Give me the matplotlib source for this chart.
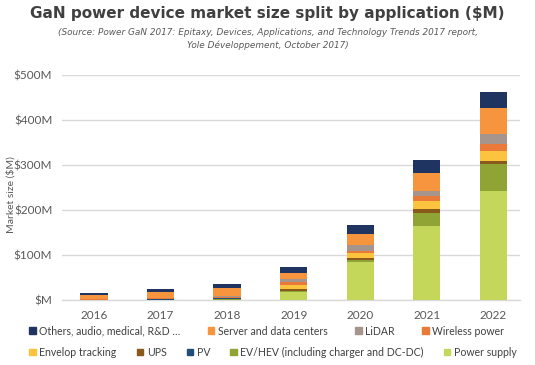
import matplotlib.pyplot as plt
from matplotlib.patches import Patch
import numpy as np

years = ["2016", "2017", "2018", "2019", "2020", "2021", "2022"]

# series values in $M, stacked bottom to top
power_supply = [0, 0.5, 1, 18, 85, 164, 242]
ev_hev = [0, 0, 0.5, 2, 3, 29, 60]
pv = [0.5, 1, 2, 1, 1, 1, 1]
ups = [0.5, 0, 1, 4, 4, 7, 6]
envelop = [0, 1, 1, 9, 11, 18, 22]
wireless = [1, 1, 2, 5, 5, 11, 15]
lidar = [1, 1, 2, 7, 13, 11, 22]
server = [9, 13, 18, 15, 25, 42, 58]
others = [4, 6, 9, 13, 20, 29, 36]

series = [
    ("Power supply", power_supply, "#c5d75a"),
    ("EV/HEV (including charger and DC-DC)", ev_hev, "#8fa434"),
    ("PV", pv, "#1f4e79"),
    ("UPS", ups, "#8a5a1c"),
    ("Envelop tracking", envelop, "#fcc33f"),
    ("Wireless power", wireless, "#ea7a3a"),
    ("LiDAR", lidar, "#a6958c"),
    ("Server and data centers", server, "#f7953f"),
    ("Others, audio, medical, R&D \u2026", others, "#1f3461"),
]

ytick_vals = [0, 100, 200, 300, 400, 500]
ytick_labels = ["$M", "$100M", "$200M", "$300M", "$400M", "$500M"]

plt.rcParams['font.family'] = ['Lato', 'DejaVu Sans']

fig = plt.figure(figsize=(5.35, 3.65), dpi=100)
ax = fig.add_axes([0.116, 0.178, 0.856, 0.617])

x = np.arange(len(years))
bottom = np.zeros(len(years))
for name, vals, col in series:
    ax.bar(x, vals, width=0.41, bottom=bottom, color=col, zorder=3)
    bottom += np.array(vals)

ax.set_xlim(-0.48, 6.4)
ax.set_ylim(0, 500)
ax.set_yticks(ytick_vals)
ax.set_yticklabels(ytick_labels)
ax.set_xticks(x)
ax.set_xticklabels(years)
ax.tick_params(length=0, labelsize=8.5, colors="#595959", pad=7)
ax.yaxis.grid(True, color="#d9d9d9", linewidth=1, zorder=0)
for s in ["top", "right", "left"]:
    ax.spines[s].set_visible(False)
ax.spines["bottom"].set_color("#d9d9d9")
ax.spines["bottom"].set_linewidth(1)
ax.set_ylabel("Market size ($M)", fontsize=7.5, color="#595959")
ax.yaxis.set_label_coords(-0.102, 0.47)

fig.text(0.5, 0.963, "GaN power device market size split by application ($M)",
         ha="center", va="center", fontsize=11, fontweight="bold",
         color="#404040", family="DejaVu Sans")
fig.text(0.5, 0.893,
         "(Source: Power GaN 2017: Epitaxy, Devices, Applications, and Technology Trends 2017 report,\nYole D\u00e9veloppement, October 2017)",
         ha="center", va="center", fontsize=6.4, style="italic",
         color="#595959", family="DejaVu Sans", linespacing=1.35)

lookup = {name: col for name, vals, col in series}
row1 = ["Others, audio, medical, R&D \u2026", "Server and data centers", "LiDAR", "Wireless power"]
row2 = ["Envelop tracking", "UPS", "PV", "EV/HEV (including charger and DC-DC)", "Power supply"]

for row, ypos, cs in [(row1, 0.093, 2.6), (row2, 0.035, 1.9)]:
    handles = [Patch(color=lookup[n], label=n) for n in row]
    fig.legend(handles=handles, loc="center left", bbox_to_anchor=(0.055, ypos),
               ncol=len(row), frameon=False, fontsize=7.6, handlelength=0.6,
               handleheight=0.6, handletextpad=0.35, columnspacing=cs,
               labelcolor="#404040", borderaxespad=0, borderpad=0)

fig.savefig("out.png", dpi=100)
